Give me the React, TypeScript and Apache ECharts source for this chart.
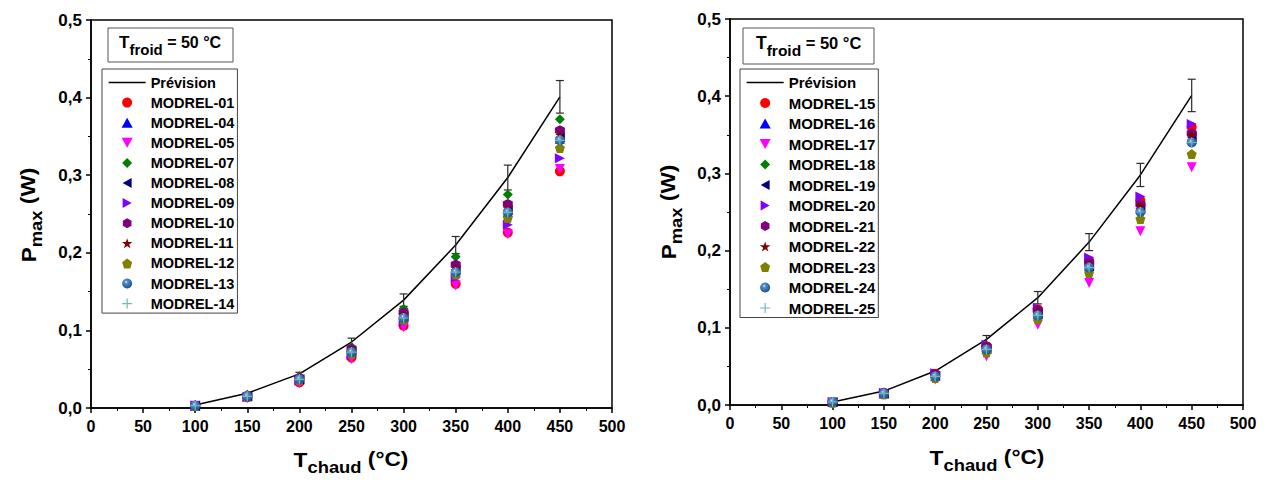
import { useEffect, useRef } from "react";
import * as echarts from "echarts";

const FONT = '"Liberation Sans", Arial, sans-serif';

// ---------- DATA ----------
const temperatures = [100, 150, 200, 250, 300, 350, 400, 450];
const xTickLabels = ["0", "50", "100", "150", "200", "250", "300", "350", "400", "450", "500"];
const yTickLabels = ["0,0", "0,1", "0,2", "0,3", "0,4", "0,5"];

const leftPrevision = [0.004, 0.019, 0.044, 0.085, 0.139, 0.21, 0.297, 0.401];
const leftPrevisionError = [0.0005, 0.001, 0.002, 0.005, 0.008, 0.011, 0.016, 0.021];
const leftNames = [
  "MODREL-01", "MODREL-04", "MODREL-05", "MODREL-07", "MODREL-08", "MODREL-09",
  "MODREL-10", "MODREL-11", "MODREL-12", "MODREL-13", "MODREL-14",
];
const modrel01 = [0.003, 0.014, 0.033, 0.065, 0.106, 0.16, 0.226, 0.305];
const modrel04 = [0.003, 0.015, 0.037, 0.072, 0.117, 0.176, 0.253, 0.347];
const modrel05 = [0.003, 0.013, 0.032, 0.063, 0.104, 0.158, 0.224, 0.308];
const modrel07 = [0.004, 0.017, 0.041, 0.079, 0.128, 0.195, 0.275, 0.372];
const modrel08 = [0.003, 0.015, 0.037, 0.073, 0.118, 0.178, 0.255, 0.349];
const modrel09 = [0.003, 0.014, 0.035, 0.068, 0.111, 0.168, 0.236, 0.322];
const modrel10 = [0.003, 0.016, 0.039, 0.076, 0.123, 0.185, 0.263, 0.358];
const modrel11 = [0.003, 0.015, 0.038, 0.074, 0.12, 0.18, 0.257, 0.352];
const modrel12 = [0.003, 0.015, 0.036, 0.07, 0.114, 0.172, 0.245, 0.335];
const modrel13 = [0.003, 0.015, 0.037, 0.072, 0.116, 0.175, 0.252, 0.345];
const modrel14 = [0.003, 0.015, 0.037, 0.072, 0.116, 0.175, 0.252, 0.345];

const rightPrevision = [0.004, 0.018, 0.044, 0.085, 0.139, 0.211, 0.298, 0.401];
const rightPrevisionError = [0.0005, 0.001, 0.002, 0.005, 0.008, 0.011, 0.015, 0.021];
const rightNames = [
  "MODREL-15", "MODREL-16", "MODREL-17", "MODREL-18", "MODREL-19", "MODREL-20",
  "MODREL-21", "MODREL-22", "MODREL-23", "MODREL-24", "MODREL-25",
];
const modrel15 = [0.004, 0.016, 0.04, 0.076, 0.124, 0.187, 0.265, 0.36];
const modrel16 = [0.004, 0.015, 0.038, 0.073, 0.118, 0.18, 0.255, 0.345];
const modrel17 = [0.003, 0.013, 0.033, 0.063, 0.104, 0.158, 0.225, 0.308];
const modrel18 = [0.004, 0.015, 0.038, 0.073, 0.119, 0.181, 0.252, 0.343];
const modrel19 = [0.004, 0.015, 0.038, 0.073, 0.118, 0.18, 0.255, 0.347];
const modrel20 = [0.004, 0.016, 0.041, 0.078, 0.126, 0.191, 0.27, 0.364];
const modrel21 = [0.004, 0.016, 0.04, 0.076, 0.123, 0.185, 0.26, 0.352];
const modrel22 = [0.004, 0.015, 0.039, 0.075, 0.121, 0.182, 0.258, 0.35];
const modrel23 = [0.003, 0.014, 0.035, 0.068, 0.111, 0.171, 0.241, 0.325];
const modrel24 = [0.004, 0.015, 0.037, 0.072, 0.116, 0.178, 0.25, 0.34];
const modrel25 = [0.004, 0.015, 0.037, 0.072, 0.116, 0.178, 0.25, 0.34];

const leftValues = [modrel01, modrel04, modrel05, modrel07, modrel08, modrel09, modrel10, modrel11, modrel12, modrel13, modrel14];
const rightValues = [modrel15, modrel16, modrel17, modrel18, modrel19, modrel20, modrel21, modrel22, modrel23, modrel24, modrel25];

// ---------- STYLES ----------
const markerSymbols = [
  "circle",
  "path://M5,0L10,9L0,9Z",
  "path://M0,0L10,0L5,9Z",
  "path://M5,0L10,5L5,10L0,5Z",
  "path://M9,0L9,10L0,5Z",
  "path://M0,0L0,10L9,5Z",
  "path://M5,0L9.33,2.5L9.33,7.5L5,10L0.67,7.5L0.67,2.5Z",
  "path://M5,0L6.18,3.6L10,3.6L6.9,5.9L8.1,9.5L5,7.3L1.9,9.5L3.1,5.9L0,3.6L3.82,3.6Z",
  "path://M5,0L10,3.8L8.1,10L1.9,10L0,3.8Z",
  "circle",
  "path://M4.4,0L5.6,0L5.6,4.4L10,4.4L10,5.6L5.6,5.6L5.6,10L4.4,10L4.4,5.6L0,5.6L0,4.4L4.4,4.4Z",
];
const sphere = new echarts.graphic.RadialGradient(0.4, 0.35, 0.65, [
  { offset: 0, color: "#e8f4ff" },
  { offset: 0.25, color: "#4f8fcc" },
  { offset: 1, color: "#1d4f86" },
]);
const markerColors = [
  "#FF0000", "#0000FF", "#FF00FF", "#008000", "#000080", "#8000FF",
  "#800080", "#800000", "#808000", sphere, "#6fb8b8",
];

function measure(text: string, size: number) {
  const t = new echarts.graphic.Text({
    style: { text, fontSize: size, fontWeight: "bold", fontFamily: FONT },
  });
  return t.getBoundingRect().width;
}

type Part = { text: string; size: number; dy: number };
function composite(parts: Part[], x: number, y: number, anchor: "left" | "center", rotation = 0, scaleX = 1) {
  let cx = 0;
  const children: any[] = [];
  parts.forEach((p) => {
    children.push({
      type: "text",
      x: cx,
      y: p.dy,
      style: {
        text: p.text,
        fontSize: p.size,
        fontWeight: "bold",
        fontFamily: FONT,
        fill: "#000",
        align: "left",
        verticalAlign: "middle",
      },
    });
    cx += measure(p.text, p.size);
  });
  if (anchor === "center") children.forEach((c) => (c.x -= cx / 2));
  return { type: "group", x, y, rotation, scaleX, children, silent: true };
}

function errorRender(params: any, api: any) {
  const x = api.value(0);
  const lo = api.coord([x, api.value(1)]);
  const hi = api.coord([x, api.value(2)]);
  const w = 4;
  const style = { stroke: "#2a2a2a", lineWidth: 1.2 };
  return {
    type: "group",
    children: [
      { type: "line", shape: { x1: lo[0], y1: lo[1], x2: hi[0], y2: hi[1] }, style },
      { type: "line", shape: { x1: lo[0] - w, y1: lo[1], x2: lo[0] + w, y2: lo[1] }, style },
      { type: "line", shape: { x1: hi[0] - w, y1: hi[1], x2: hi[0] + w, y2: hi[1] }, style },
    ],
  };
}

function panelSeries(idx: number, prev: number[], err: number[], names: string[], values: number[][]) {
  const s: any[] = [];
  s.push({
    type: "line",
    name: "Prévision",
    xAxisIndex: idx,
    yAxisIndex: idx,
    data: temperatures.map((t, i) => [t, prev[i]]),
    symbol: "none",
    lineStyle: { color: "#000", width: 1.5 },
    itemStyle: { color: "#000" },
    z: 2,
  });
  s.push({
    type: "custom",
    name: "erreur" + idx,
    xAxisIndex: idx,
    yAxisIndex: idx,
    data: temperatures.map((t, i) => [t, prev[i] - err[i], prev[i] + err[i]]),
    encode: { x: 0, y: [1, 2] },
    renderItem: errorRender,
    silent: true,
    z: 3,
  });
  names.forEach((n, k) => {
    s.push({
      type: "scatter",
      name: n,
      xAxisIndex: idx,
      yAxisIndex: idx,
      data: temperatures.map((t, i) => [t, values[k][i]]),
      symbol: markerSymbols[k],
      symbolSize: 10,
      itemStyle: { color: markerColors[k], opacity: 1 },
      z: 4,
    });
  });
  return s;
}

function xAxis(idx: number) {
  return {
    type: "value",
    gridIndex: idx,
    min: 0,
    max: 500,
    interval: 50,
    axisLine: { onZero: false, lineStyle: { color: "#000", width: 1.5 } },
    axisTick: { length: 5, lineStyle: { color: "#000", width: 1.5 } },
    minorTick: { show: true, splitNumber: 2, length: 3, lineStyle: { color: "#000", width: 1 } },
    splitLine: { show: false },
    axisLabel: {
      fontSize: 16,
      fontWeight: "bold",
      color: "#000",
      fontFamily: FONT,
      margin: 10,
      formatter: (v: number) => xTickLabels[Math.round(v / 50)],
    },
  };
}
function yAxis(idx: number) {
  return {
    type: "value",
    gridIndex: idx,
    min: 0,
    max: 0.5,
    interval: 0.1,
    axisLine: { onZero: false, lineStyle: { color: "#000", width: 1.5 } },
    axisTick: { length: 5, lineStyle: { color: "#000", width: 1.5 } },
    minorTick: { show: true, splitNumber: 2, length: 3, lineStyle: { color: "#000", width: 1 } },
    splitLine: { show: false },
    axisLabel: {
      fontSize: 17,
      fontWeight: "bold",
      color: "#000",
      fontFamily: FONT,
      margin: 9,
      formatter: (v: number) => yTickLabels[Math.round(v * 10)],
    },
  };
}

function legend(left: number, top: number, names: string[], fontSize: number, pad: number[], gap: number) {
  return {
    orient: "vertical",
    left,
    top,
    data: [
      { name: "Prévision", itemStyle: { opacity: 0 }, lineStyle: { width: 1.3, color: "#000" } },
      ...names,
    ],
    selectedMode: false,
    borderColor: "#444",
    borderWidth: 1,
    borderRadius: 0,
    padding: pad,
    itemWidth: 37,
    itemHeight: 10,
    itemGap: gap,
    itemTextGap: 5,
    textStyle: { fontSize, fontWeight: "bold", color: "#000", fontFamily: FONT, lineHeight: 14 },
  };
}

const xTitleParts: Part[] = [
  { text: "T", size: 21, dy: 0 },
  { text: "chaud", size: 17, dy: 7 },
  { text: " (°C)", size: 21, dy: -1 },
];
const yTitleParts: Part[] = [
  { text: "P", size: 21, dy: 0 },
  { text: "max", size: 17, dy: 7 },
  { text: " (W)", size: 21, dy: -1 },
];
const froidParts = (s: number): Part[] => [
  { text: "T", size: s + 1, dy: 0 },
  { text: "froid", size: s - 1, dy: 7 },
  { text: " = 50 °C", size: s, dy: 0 },
];

export default function App() {
  const ref = useRef<HTMLDivElement>(null);
  useEffect(() => {
    if (!ref.current) return;
    const chart = echarts.init(ref.current, undefined, { renderer: "svg" });
    const option: any = {
      animation: false,
      backgroundColor: "#fff",
      grid: [
        { left: 91, top: 20, width: 521, height: 388, show: true, borderColor: "#000", borderWidth: 1.5, backgroundColor: "transparent" },
        { left: 730, top: 19, width: 513, height: 386, show: true, borderColor: "#000", borderWidth: 1.5, backgroundColor: "transparent" },
      ],
      xAxis: [xAxis(0), xAxis(1)],
      yAxis: [yAxis(0), yAxis(1)],
      legend: [
        legend(102, 69, leftNames, 14.5, [6, 3, 2, 6], 5.1),
        legend(740, 69, rightNames, 15, [6, 3, 2, 6], 5.5),
      ],
      series: [
        ...panelSeries(0, leftPrevision, leftPrevisionError, leftNames, leftValues),
        ...panelSeries(1, rightPrevision, rightPrevisionError, rightNames, rightValues),
      ],
      graphic: [
        { type: "rect", shape: { x: 108, y: 28, width: 125, height: 34 }, style: { fill: "#fff", stroke: "#555", lineWidth: 1 }, silent: true },
        composite(froidParts(16), 119, 42, "left"),
        { type: "rect", shape: { x: 743, y: 28, width: 131, height: 36 }, style: { fill: "#fff", stroke: "#555", lineWidth: 1 }, silent: true },
        composite(froidParts(16.5), 756, 43, "left"),
        composite(xTitleParts, 351, 460, "center", 0, 1.08),
        composite(xTitleParts, 987, 458, "center", 0, 1.08),
        composite(yTitleParts, 29, 215, "center", Math.PI / 2, 1.08),
        composite(yTitleParts, 669, 212, "center", Math.PI / 2, 1.08),
      ],
    };
    chart.setOption(option);
    return () => chart.dispose();
  }, []);
  return <div ref={ref} style={{ position: "absolute", left: 0, top: 0, width: 1274, height: 480 }} />;
}
